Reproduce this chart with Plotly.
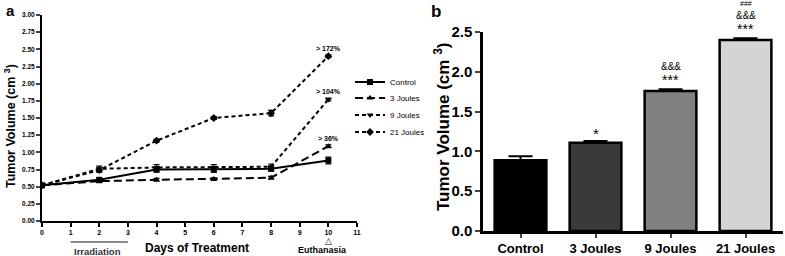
import plotly.graph_objects as go

days = [0, 2, 4, 6, 8, 10]
control = [0.52, 0.60, 0.75, 0.75, 0.76, 0.88]
control_err = [0.02, 0.02, 0.04, 0.04, 0.03, 0.05]
j3 = [0.52, 0.58, 0.60, 0.61, 0.63, 1.09]
j3_err = [0.02, 0.02, 0.02, 0.02, 0.02, 0.02]
j9 = [0.52, 0.76, 0.78, 0.78, 0.79, 1.77]
j9_err = [0.02, 0.04, 0.04, 0.04, 0.04, 0.02]
j21 = [0.52, 0.74, 1.17, 1.50, 1.57, 2.40]
j21_err = [0.02, 0.03, 0.02, 0.02, 0.04, 0.02]
pct_labels = ["> 36%", "> 104%", "> 172%"]

groups = ["Control", "3 Joules", "9 Joules", "21 Joules"]
final_vol = [0.89, 1.11, 1.76, 2.40]
final_err = [0.05, 0.02, 0.02, 0.02]
bar_colors = ["#000000", "#3a3a3a", "#808080", "#d4d4d4"]

FONT = "Liberation Sans, Arial, sans-serif"

fig = go.Figure()

series = [
    ("Control", control, control_err, "solid", "square", "legend"),
    ("3 Joules", j3, j3_err, "8px,4px", "triangle-up", "legend2"),
    ("9 Joules", j9, j9_err, "4px,3px", "triangle-down", "legend3"),
    ("21 Joules", j21, j21_err, "4px,3px", "diamond", "legend4"),
]
for name, ys, err, dash, sym, leg in series:
    fig.add_trace(go.Scatter(
        x=days, y=ys, name=name, mode="lines+markers",
        line=dict(color="black", width=2, dash=dash),
        marker=dict(symbol=sym, size=6, color="black"),
        error_y=dict(type="data", array=err, color="black", thickness=1.2, width=3),
        xaxis="x", yaxis="y", legend=leg,
    ))

fig.add_trace(go.Bar(
    x=groups, y=final_vol, marker=dict(color=bar_colors, line=dict(color="black", width=2.5)),
    error_y=dict(type="data", array=final_err, symmetric=False, arrayminus=[0]*4,
                 color="black", thickness=2, width=12),
    width=0.69, showlegend=False, xaxis="x2", yaxis="y2",
))

ann = []
for ys, lab in zip([j3, j9, j21], pct_labels):
    ann.append(dict(x=10, y=ys[-1], xref="x", yref="y", text=f"<b>{lab}</b>", showarrow=False,
                    yshift=8, font=dict(size=7, family=FONT, color="black")))
ann += [
    dict(x=4/785, y=1.0, xref="paper", yref="paper", text="<b>a</b>", showarrow=False,
         xanchor="left", yanchor="top", font=dict(size=15, family=FONT, color="black")),
    dict(x=429/785, y=1.0, xref="paper", yref="paper", text="<b>b</b>", showarrow=False,
         xanchor="left", yanchor="top", font=dict(size=17, family=FONT, color="black")),
    dict(x=10/785, y=(256-126)/256, xref="paper", yref="paper",
         text="<b>Tumor Volume (cm <sup>3</sup>)</b>", textangle=-90, showarrow=False,
         xanchor="center", yanchor="middle", font=dict(size=12.5, family=FONT, color="black")),
    dict(x=442/785, y=(256-127)/256, xref="paper", yref="paper",
         text="<b>Tumor Volume (cm <sup>3</sup>)</b>", textangle=-90, showarrow=False,
         xanchor="center", yanchor="middle", font=dict(size=17, family=FONT, color="black")),
    dict(x=197/785, y=(256-248)/256, xref="paper", yref="paper", text="<b>Days of Treatment</b>",
         showarrow=False, xanchor="center", yanchor="middle",
         font=dict(size=12, family=FONT, color="black")),
    dict(x=1.95, y=(256-251)/256, xref="x", yref="paper", text="<b>Irradiation</b>",
         showarrow=False, xanchor="center", yanchor="middle",
         font=dict(size=9.5, family=FONT, color="#333")),
    dict(x=9.8, y=(256-250)/256, xref="x", yref="paper", text="<b>Euthanasia</b>",
         showarrow=False, xanchor="center", yanchor="middle",
         font=dict(size=9, family=FONT, color="black")),
    dict(x=10, y=(256-241)/256, xref="x", yref="paper", text="△",
         showarrow=False, xanchor="center", yanchor="middle",
         font=dict(size=9, family="DejaVu Sans", color="black")),
    dict(x="3 Joules", y=final_vol[1], xref="x2", yref="y2", text="*", showarrow=False,
         yshift=9, font=dict(size=15, family=FONT, color="black")),
    dict(x="9 Joules", y=final_vol[2], xref="x2", yref="y2", text="***", showarrow=False,
         yshift=11, font=dict(size=14, family=FONT, color="black")),
    dict(x="9 Joules", y=final_vol[2], xref="x2", yref="y2", text="&&&", showarrow=False,
         yshift=24, font=dict(size=10, family=FONT, color="black")),
    dict(x="21 Joules", y=final_vol[3], xref="x2", yref="y2", text="***", showarrow=False,
         yshift=11, font=dict(size=14, family=FONT, color="black")),
    dict(x="21 Joules", y=final_vol[3], xref="x2", yref="y2", text="&&&", showarrow=False,
         yshift=24, font=dict(size=10, family=FONT, color="black")),
    dict(x="21 Joules", y=final_vol[3], xref="x2", yref="y2", text="###", showarrow=False,
         yshift=36, font=dict(size=7, family=FONT, color="black")),
]

def leg(ypix):
    return dict(x=350/785, y=(256-ypix)/256, xanchor="left", yanchor="middle",
                font=dict(size=8, family=FONT, color="black"), itemwidth=30,
                bgcolor="rgba(0,0,0,0)")

fig.update_layout(
    width=785, height=256, margin=dict(l=0, r=0, t=0, b=0, autoexpand=False),
    paper_bgcolor="white", plot_bgcolor="white",
    font=dict(family=FONT, color="black"),
    showlegend=True,
    legend=leg(82), legend2=leg(98), legend3=leg(115), legend4=leg(132),
    annotations=ann,
    shapes=[dict(type="line", xref="x", yref="paper", x0=1, x1=3,
                 y0=(256-242)/256, y1=(256-242)/256, line=dict(color="#888", width=2))],
    xaxis=dict(domain=[42/785, 357/785], range=[0, 11], tickmode="array",
               tickvals=list(range(12)), ticktext=[f"<b>{i}</b>" for i in range(12)],
               showline=True, linecolor="black", linewidth=2,
               ticks="outside", ticklen=4, tickwidth=1.5, tickcolor="black",
               showgrid=False, zeroline=False, tickfont=dict(size=7, family=FONT),
               anchor="y", automargin=False),
    yaxis=dict(domain=[35/256, 241/256], range=[0, 3.0], tickmode="array",
               tickvals=[i*0.25 for i in range(13)],
               ticktext=[f"<b>{i*0.25:.2f}</b>" for i in range(13)],
               showline=True, linecolor="black", linewidth=2, ticks="outside", ticklen=4,
               tickwidth=1.5, showgrid=False, zeroline=False,
               tickfont=dict(size=6.5, family=FONT),
               anchor="x", automargin=False),
    xaxis2=dict(domain=[483/785, 783/785], range=[-0.5, 3.5], showline=True, linecolor="black",
                linewidth=2.5, ticks="outside", ticklen=4, tickwidth=2, showgrid=False,
                tickfont=dict(size=13, family=FONT), anchor="y2",
                tickmode="array", tickvals=groups, ticktext=[f"<b>{g}</b>" for g in groups],
                automargin=False),
    yaxis2=dict(domain=[25/256, 224/256], range=[0, 2.5], tickmode="array",
                tickvals=[0, 0.5, 1.0, 1.5, 2.0, 2.5],
                ticktext=[f"<b>{v:.1f}</b>" for v in [0, 0.5, 1.0, 1.5, 2.0, 2.5]],
                showline=True, linecolor="black", linewidth=2.5, ticks="outside", ticklen=5,
                tickwidth=2, showgrid=False, zeroline=False,
                tickfont=dict(size=15, family=FONT),
                anchor="x2", automargin=False),
)

fig.write_html("out.html", config={"displayModeBar": False},
               post_script="document.body.style.margin='0';")
